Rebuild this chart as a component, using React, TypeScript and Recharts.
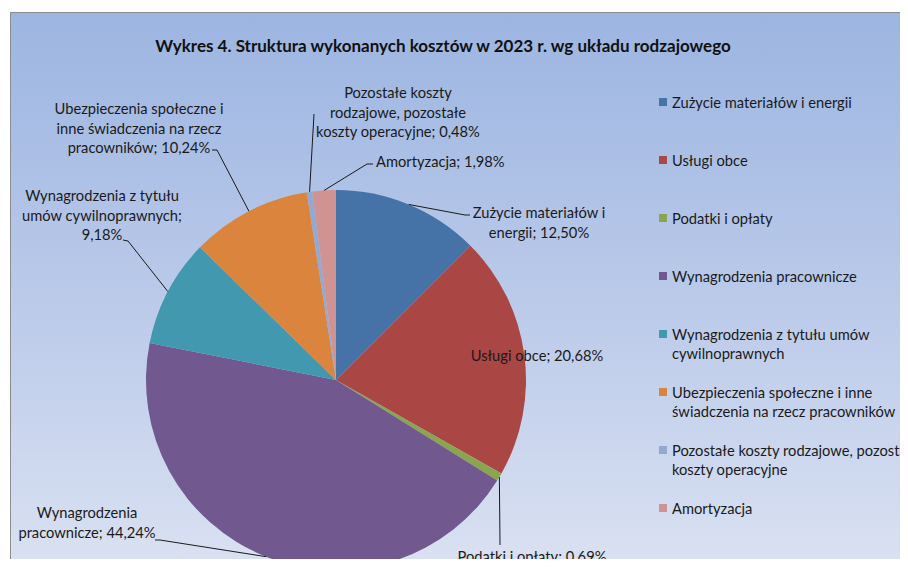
import React from "react";
import { PieChart, Pie, Cell, Legend } from "recharts";

const categories = [
  "Zużycie materiałów i energii",
  "Usługi obce",
  "Podatki i opłaty",
  "Wynagrodzenia pracownicze",
  "Wynagrodzenia z tytułu umów cywilnoprawnych",
  "Ubezpieczenia społeczne i inne świadczenia na rzecz pracowników",
  "Pozostałe koszty rodzajowe, pozostałe koszty operacyjne",
  "Amortyzacja",
];

const shares = [12.5, 20.68, 0.69, 44.24, 9.18, 10.24, 0.48, 1.98];

const colors = ["#4572A7", "#AA4643", "#89A54E", "#71588F", "#4198AF", "#DB843D", "#93A9CF", "#D19392"];

// label text lines as in the source chart
const labelLines = [
  ["Zużycie materiałów i", "energii; 12,50%"],
  ["Usługi obce; 20,68%"],
  ["Podatki i opłaty; 0,69%"],
  ["Wynagrodzenia", "pracownicze; 44,24%"],
  ["Wynagrodzenia z tytułu", "umów cywilnoprawnych;", "9,18%"],
  ["Ubezpieczenia społeczne i", "inne świadczenia na rzecz", "pracowników; 10,24%"],
  ["Pozostałe koszty", "rodzajowe, pozostałe", "koszty operacyjne; 0,48%"],
  ["Amortyzacja; 1,98%"],
];

// where each label text sits and the bend points of its leader line
const labelLayout = [
  { x: 539, y: 212, anchor: "middle", leader: [[465, 215], [470, 215]] },
  { x: 537, y: 355, anchor: "middle", leader: null },
  { x: 532, y: 556, anchor: "middle", leader: [[500, 545]] },
  { x: 87, y: 512, anchor: "middle", leader: [[160, 540], [155, 540]] },
  { x: 102, y: 195, anchor: "middle", leader: [[128, 241], [123, 240]] },
  { x: 139, y: 108, anchor: "middle", leader: [[217, 150], [212, 150]] },
  { x: 398, y: 92, anchor: "middle", leader: [[314, 114]] },
  { x: 376, y: 161, anchor: "start", leader: [[367, 164], [373, 164]] },
];

const data = categories.map((name, i) => ({ name, value: shares[i] }));

const FONT = "Lato, 'Open Sans', sans-serif";
const RAD = Math.PI / 180;

const renderLabel = (props: any) => {
  const { cx, cy, midAngle, outerRadius, index } = props;
  const lay = labelLayout[index];
  const sx = cx + outerRadius * Math.cos(-midAngle * RAD);
  const sy = cy + outerRadius * Math.sin(-midAngle * RAD);
  const pts = lay.leader ? [[sx, sy], ...lay.leader].map((p) => p.join(",")).join(" ") : null;
  return (
    <g key={`lbl-${index}`}>
      {pts && <polyline points={pts} fill="none" stroke="#1a1a1a" strokeWidth={1} />}
      <text
        x={lay.x}
        y={lay.y}
        textAnchor={lay.anchor as any}
        dominantBaseline="central"
        fontFamily={FONT}
        fontSize={14.7}
        fill="#1a1a1a"
      >
        {labelLines[index].map((t, j) => (
          <tspan key={j} x={lay.x} dy={j === 0 ? 0 : 19.5}>
            {t}
          </tspan>
        ))}
      </text>
    </g>
  );
};

const legendLines = [
  ["Zużycie materiałów i energii"],
  ["Usługi obce"],
  ["Podatki i opłaty"],
  ["Wynagrodzenia pracownicze"],
  ["Wynagrodzenia z tytułu umów", "cywilnoprawnych"],
  ["Ubezpieczenia społeczne i inne", "świadczenia na rzecz pracowników"],
  ["Pozostałe koszty rodzajowe, pozostałe", "koszty operacyjne"],
  ["Amortyzacja"],
];

const renderLegend = () => (
  <div style={{ fontFamily: FONT, fontSize: 14.7, color: "#1a1a1a" }}>
    {legendLines.map((lines, i) => (
      <div key={i} style={{ position: "relative", height: 58, paddingLeft: 16, lineHeight: "19px", whiteSpace: "nowrap" }}>
        <span
          style={{ position: "absolute", left: 3, top: 5, width: 8, height: 8, background: colors[i] }}
        />
        {lines.map((l, j) => (
          <div key={j}>{l}</div>
        ))}
      </div>
    ))}
  </div>
);

export default function App() {
  return (
    <div style={{ position: "relative", width: 908, height: 567, margin: -8, overflow: "hidden", background: "#fff" }}>
      <div
        style={{
          position: "absolute",
          left: 10,
          top: 12,
          width: 1000,
          height: 600,
          border: "1px solid #8c8c8c",
          background: "linear-gradient(180deg, #9cb5e1 0%, #bccbea 50%, #dfe5f3 100%)",
        }}
      />
      <div
        style={{
          position: "absolute",
          left: 0,
          top: 35,
          width: 886,
          textAlign: "center",
          fontFamily: FONT,
          fontWeight: 700,
          fontSize: 17,
          color: "#111",
        }}
      >
        Wykres 4. Struktura wykonanych kosztów w 2023 r. wg układu rodzajowego
      </div>
      <div style={{ position: "absolute", left: 0, top: 0 }}>
        <PieChart width={908} height={567} margin={{ top: 0, right: 0, bottom: 0, left: 0 }}>
          <Pie
            data={data}
            dataKey="value"
            nameKey="name"
            cx={336}
            cy={380}
            outerRadius={190}
            startAngle={90}
            endAngle={-270}
            stroke="none"
            label={renderLabel}
            labelLine={false}
            isAnimationActive={false}
          >
            {data.map((entry, i) => (
              <Cell key={`cell-${i}`} fill={colors[i]} />
            ))}
          </Pie>
          <Legend
            content={renderLegend}
            layout="vertical"
            wrapperStyle={{ position: "absolute", left: 656, top: 93, width: 300 }}
          />
        </PieChart>
      </div>
    </div>
  );
}
